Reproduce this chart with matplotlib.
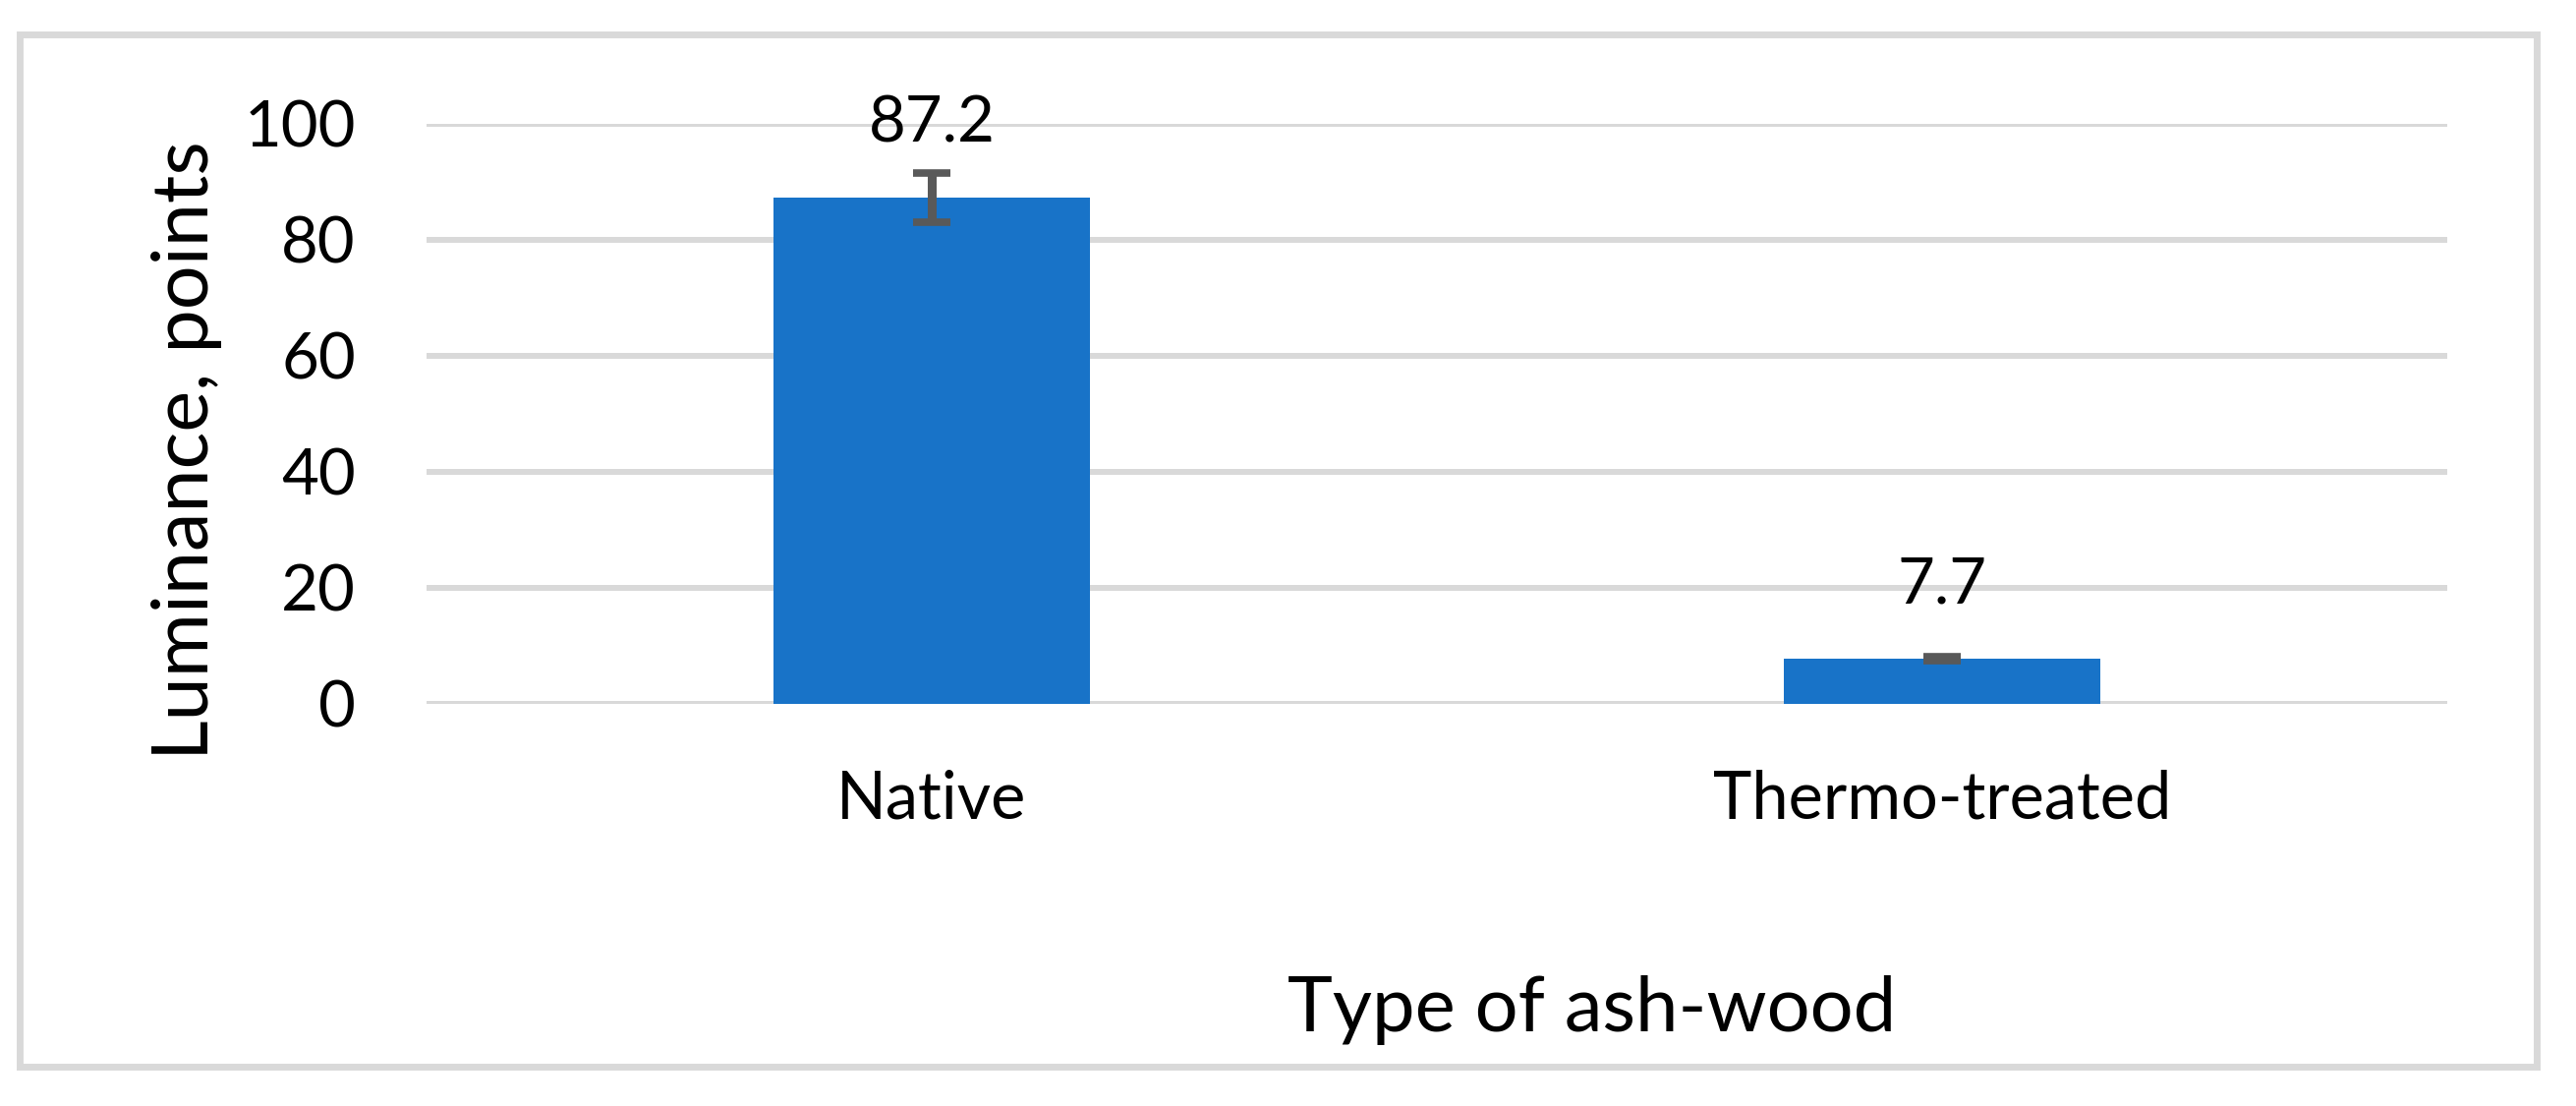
import matplotlib

matplotlib.use("Agg")

import matplotlib.pyplot as plt  # noqa: E402
from matplotlib.patches import Rectangle  # noqa: E402

categories = ["Native", "Thermo-treated"]
luminance = [87.2, 7.7]
errors = [4.2, 0.3]
yticks = [0, 20, 40, 60, 80, 100]

plt.rcParams["font.family"] = ["Lato", "DejaVu Sans"]

W, H, DPI = 2621, 1125, 100
fig = plt.figure(figsize=(W / DPI, H / DPI), dpi=DPI)
ax = fig.add_axes([434 / W, 1 - 715.5 / H, (2490 - 434) / W, (715.5 - 125.7) / H])

x = range(len(categories))
ax.bar(x, luminance, width=0.314, color="#1873C8", zorder=2)
ax.errorbar(x, luminance, yerr=errors, fmt="none", ecolor="#595959",
            elinewidth=6.5, capsize=13.5, capthick=5.5, zorder=3)

for xi, v in zip(x, luminance):
    ax.annotate(f"{v}", (xi, v), xytext=(0, 41), textcoords="offset points",
                ha="center", va="baseline", fontsize=47, color="black")

ax.set_xlim(-0.5, 1.5)
ax.set_ylim(0, 100)
ax.set_yticks(yticks)
ax.set_xticks(list(x))
ax.set_xticklabels(categories)
ax.tick_params(axis="both", length=0, labelsize=47, colors="black")
ax.tick_params(axis="x", labelsize=48)
ax.tick_params(axis="y", pad=52)
ax.tick_params(axis="x", pad=48)
ax.grid(axis="y", color="#D9D9D9", linewidth=4.3, zorder=0)
ax.set_axisbelow(True)
for s in ax.spines.values():
    s.set_visible(False)

fig.text(1620 / W, 1 - 1049 / H, "Type of ash-wood", ha="center", va="baseline",
         fontsize=56)
fig.text(154 / W, 1 - 458 / H, "Luminance, points", ha="left", va="center",
         rotation=90, fontsize=57)

# chart area border
fig.patches.append(Rectangle((19.5 / W, 1 - 1085 / H), (2581 - 19.5) / W, (1085 - 35) / H,
                             transform=fig.transFigure, fill=False,
                             edgecolor="#D9D9D9", linewidth=5))

fig.savefig("out.png", dpi=DPI)
